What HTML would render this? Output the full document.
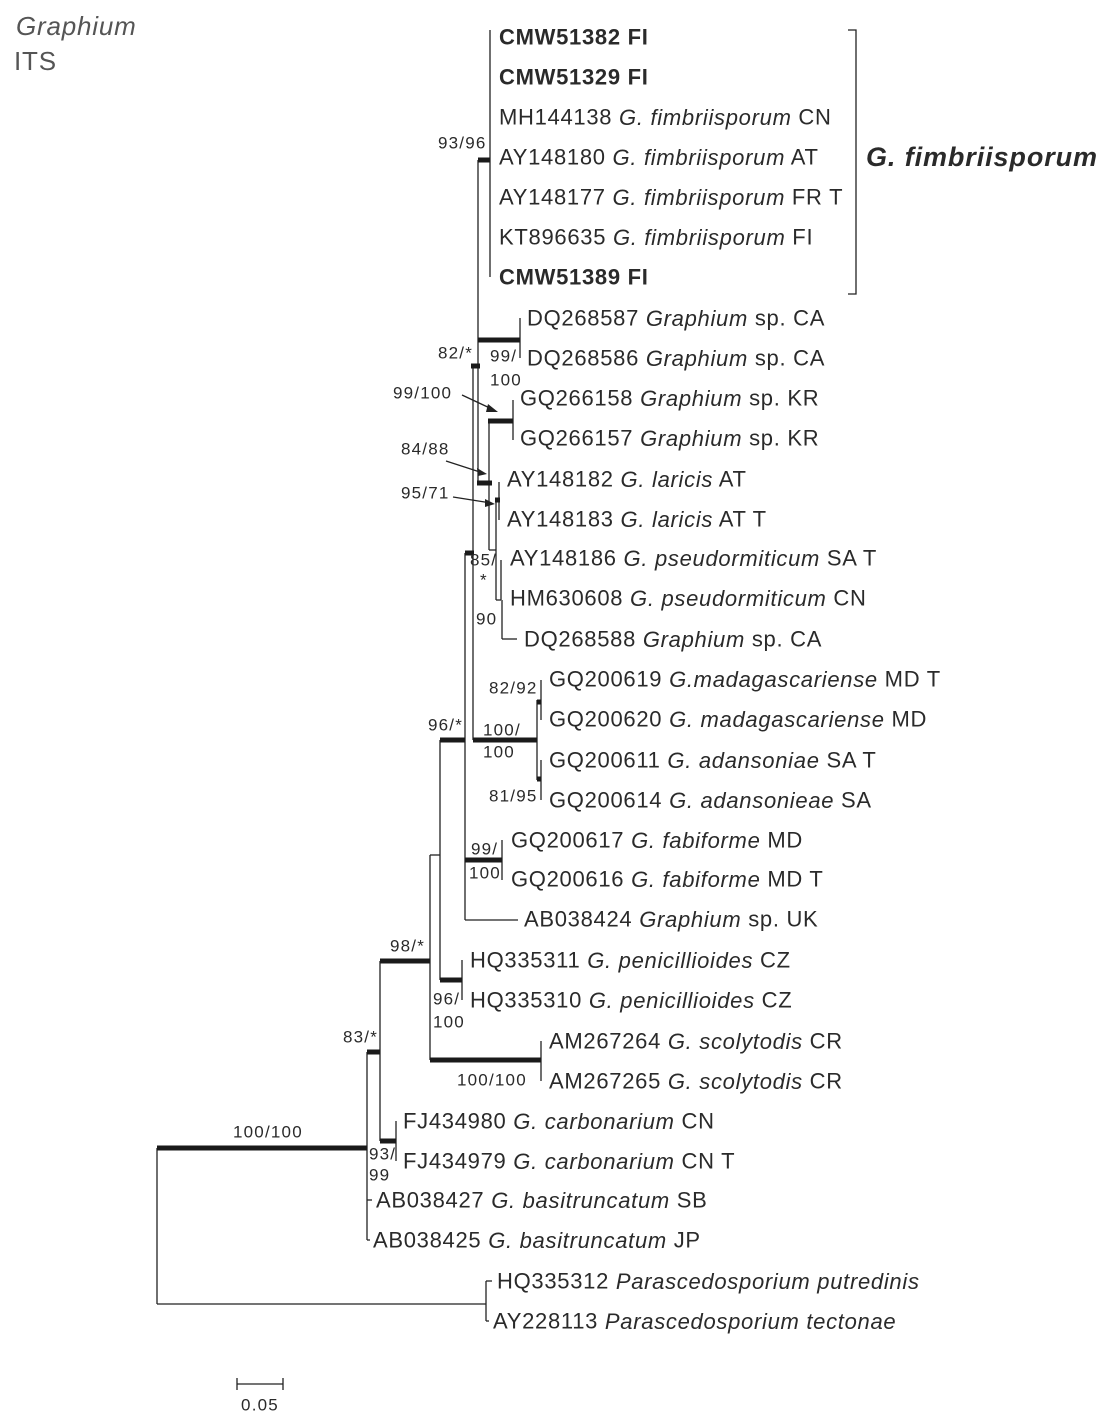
<!DOCTYPE html>
<html><head><meta charset="utf-8"><style>
html,body{margin:0;padding:0;background:#fff}
svg{display:block}
text{font-family:"Liberation Sans",sans-serif;fill:#2a2a2a}
.l{font-size:22px;letter-spacing:0.7px}
.s{font-size:17px;letter-spacing:1.2px}
</style></head><body>
<svg width="1103" height="1421" viewBox="0 0 1103 1421">
<text x="16" y="35" font-size="26" font-style="italic" letter-spacing="0.8" style="fill:#555">Graphium</text>
<text x="14" y="70" font-size="26" letter-spacing="0.8" style="fill:#555">ITS</text>
<g stroke="#222" stroke-width="1.3" fill="none">
<line x1="157" y1="1148" x2="157" y2="1304"/>
<line x1="157" y1="1304" x2="486" y2="1304"/>
<line x1="486" y1="1281" x2="486" y2="1321"/>
<line x1="486" y1="1281" x2="492" y2="1281"/>
<line x1="486" y1="1321" x2="489" y2="1321"/>
<line x1="367" y1="1052" x2="367" y2="1240"/>
<line x1="367" y1="1200" x2="372" y2="1200"/>
<line x1="367" y1="1240" x2="370" y2="1240"/>
<line x1="380" y1="961" x2="380" y2="1141"/>
<line x1="396" y1="1121" x2="396" y2="1161"/>
<line x1="430" y1="855" x2="430" y2="1060"/>
<line x1="430" y1="855" x2="440" y2="855"/>
<line x1="541" y1="1041" x2="541" y2="1081"/>
<line x1="440" y1="740" x2="440" y2="980"/>
<line x1="462" y1="960" x2="462" y2="1000"/>
<line x1="465" y1="553" x2="465" y2="920"/>
<line x1="465" y1="920" x2="518" y2="920"/>
<line x1="502" y1="840" x2="502" y2="880"/>
<line x1="473" y1="366" x2="473" y2="740"/>
<line x1="537" y1="700" x2="537" y2="780"/>
<line x1="541" y1="680" x2="541" y2="720"/>
<line x1="541" y1="760" x2="541" y2="800"/>
<line x1="478" y1="160" x2="478" y2="483"/>
<line x1="490" y1="30" x2="490" y2="277"/>
<line x1="520" y1="318" x2="520" y2="358"/>
<line x1="513" y1="400" x2="513" y2="440"/>
<line x1="489" y1="421" x2="489" y2="550"/>
<line x1="489" y1="550" x2="496" y2="550"/>
<line x1="496" y1="500" x2="496" y2="600"/>
<line x1="499" y1="482" x2="499" y2="520"/>
<line x1="496" y1="600" x2="501" y2="600"/>
<line x1="501" y1="560" x2="501" y2="600"/>
<line x1="502" y1="600" x2="502" y2="639"/>
<line x1="502" y1="639" x2="517" y2="639"/>
<polyline points="848,30 856,30 856,294 848,294"/>
<line x1="237" y1="1384" x2="283" y2="1384"/>
<line x1="237" y1="1378" x2="237" y2="1390"/>
<line x1="283" y1="1378" x2="283" y2="1390"/>
<line x1="462" y1="395" x2="494" y2="410"/>
<line x1="446" y1="461" x2="483" y2="473"/>
<line x1="453" y1="497" x2="491" y2="503"/>
</g>
<g fill="#222">
<polygon points="498,412 488,404 486,412"/>
<polygon points="487,474 477,468 478,476"/>
<polygon points="495,504 485,499 485,507"/>
</g>
<g stroke="#1a1a1a" stroke-width="5" fill="none">
<line x1="157" y1="1148" x2="367" y2="1148"/>
<line x1="367" y1="1052" x2="380" y2="1052"/>
<line x1="380" y1="961" x2="430" y2="961"/>
<line x1="380" y1="1141" x2="396" y2="1141"/>
<line x1="430" y1="1060" x2="541" y2="1060"/>
<line x1="440" y1="740" x2="465" y2="740"/>
<line x1="440" y1="980" x2="462" y2="980"/>
<line x1="465" y1="553" x2="474" y2="553"/>
<line x1="465" y1="860" x2="502" y2="860"/>
<line x1="473" y1="740" x2="537" y2="740"/>
<line x1="537" y1="702" x2="541" y2="702"/>
<line x1="537" y1="779" x2="541" y2="779"/>
<line x1="471" y1="366" x2="480" y2="366"/>
<line x1="478" y1="160" x2="490" y2="160"/>
<line x1="478" y1="340" x2="520" y2="340"/>
<line x1="488" y1="421" x2="513" y2="421"/>
<line x1="477" y1="483" x2="492" y2="483"/>
<line x1="495" y1="500" x2="500" y2="500"/>
</g>
<g class="l" dominant-baseline="central">
<text x="499" y="37" font-weight="bold">CMW51382 FI</text>
<text x="499" y="77" font-weight="bold">CMW51329 FI</text>
<text x="499" y="117">MH144138 <tspan font-style="italic">G. fimbriisporum</tspan> CN</text>
<text x="499" y="157">AY148180 <tspan font-style="italic">G. fimbriisporum</tspan> AT</text>
<text x="499" y="197">AY148177 <tspan font-style="italic">G. fimbriisporum</tspan> FR T</text>
<text x="499" y="237">KT896635 <tspan font-style="italic">G. fimbriisporum</tspan> FI</text>
<text x="499" y="277" font-weight="bold">CMW51389 FI</text>
<text x="527" y="318">DQ268587 <tspan font-style="italic">Graphium</tspan> sp. CA</text>
<text x="527" y="358">DQ268586 <tspan font-style="italic">Graphium</tspan> sp. CA</text>
<text x="520" y="398">GQ266158 <tspan font-style="italic">Graphium</tspan> sp. KR</text>
<text x="520" y="438">GQ266157 <tspan font-style="italic">Graphium</tspan> sp. KR</text>
<text x="507" y="479">AY148182 <tspan font-style="italic">G. laricis</tspan> AT</text>
<text x="507" y="519">AY148183 <tspan font-style="italic">G. laricis</tspan> AT T</text>
<text x="510" y="558">AY148186 <tspan font-style="italic">G. pseudormiticum</tspan> SA T</text>
<text x="510" y="598">HM630608 <tspan font-style="italic">G. pseudormiticum</tspan> CN</text>
<text x="524" y="639">DQ268588 <tspan font-style="italic">Graphium</tspan> sp. CA</text>
<text x="549" y="679">GQ200619 <tspan font-style="italic">G.madagascariense</tspan> MD T</text>
<text x="549" y="719">GQ200620 <tspan font-style="italic">G. madagascariense</tspan> MD</text>
<text x="549" y="760">GQ200611 <tspan font-style="italic">G. adansoniae</tspan> SA T</text>
<text x="549" y="800">GQ200614 <tspan font-style="italic">G. adansonieae</tspan> SA</text>
<text x="511" y="840">GQ200617 <tspan font-style="italic">G. fabiforme</tspan> MD</text>
<text x="511" y="879">GQ200616 <tspan font-style="italic">G. fabiforme</tspan> MD T</text>
<text x="524" y="919">AB038424 <tspan font-style="italic">Graphium</tspan> sp. UK</text>
<text x="470" y="960">HQ335311 <tspan font-style="italic">G. penicillioides</tspan> CZ</text>
<text x="470" y="1000">HQ335310 <tspan font-style="italic">G. penicillioides</tspan> CZ</text>
<text x="549" y="1041">AM267264 <tspan font-style="italic">G. scolytodis</tspan> CR</text>
<text x="549" y="1081">AM267265 <tspan font-style="italic">G. scolytodis</tspan> CR</text>
<text x="403" y="1121">FJ434980 <tspan font-style="italic">G. carbonarium</tspan> CN</text>
<text x="403" y="1161">FJ434979 <tspan font-style="italic">G. carbonarium</tspan> CN T</text>
<text x="376" y="1200">AB038427 <tspan font-style="italic">G. basitruncatum</tspan> SB</text>
<text x="373" y="1240">AB038425 <tspan font-style="italic">G. basitruncatum</tspan> JP</text>
<text x="497" y="1281">HQ335312 <tspan font-style="italic">Parascedosporium putredinis</tspan></text>
<text x="493" y="1321">AY228113 <tspan font-style="italic">Parascedosporium tectonae</tspan></text>
<text x="866" y="157" font-size="27" letter-spacing="0.9" font-weight="bold" font-style="italic">G. fimbriisporum</text>
</g>
<g class="s" dominant-baseline="central">
<text x="438" y="143">93/96</text>
<text x="438" y="353">82/*</text>
<text x="490" y="356">99/</text>
<text x="490" y="380">100</text>
<text x="393" y="393">99/100</text>
<text x="401" y="449">84/88</text>
<text x="401" y="493">95/71</text>
<text x="470" y="560">85/</text>
<text x="480" y="580">*</text>
<text x="476" y="619">90</text>
<text x="489" y="688">82/92</text>
<text x="483" y="730">100/</text>
<text x="483" y="752">100</text>
<text x="489" y="796">81/95</text>
<text x="428" y="725">96/*</text>
<text x="471" y="849">99/</text>
<text x="469" y="873">100</text>
<text x="390" y="946">98/*</text>
<text x="433" y="999">96/</text>
<text x="433" y="1022">100</text>
<text x="343" y="1037">83/*</text>
<text x="457" y="1080">100/100</text>
<text x="233" y="1132">100/100</text>
<text x="369" y="1154">93/</text>
<text x="369" y="1175">99</text>
<text x="260" y="1405" text-anchor="middle">0.05</text>
</g>
</svg>
</body></html>
